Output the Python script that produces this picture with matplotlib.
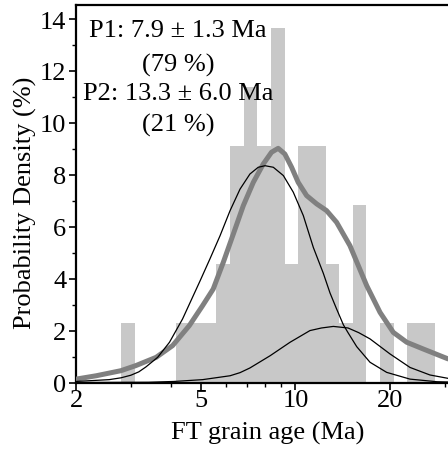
import numpy as np
import matplotlib
matplotlib.use("Agg")
from matplotlib import pyplot as plt
from matplotlib.ticker import FixedLocator, FixedFormatter, NullFormatter

plt.rcParams['font.family'] = ['Liberation Serif', 'DejaVu Serif']

# histogram of grain ages: log bins, 0.1 wide in ln(age)
n_grains = 44
bin_start = 2.782
bin_step_ln = 0.1
bin_counts = [1, 0, 0, 0, 1, 1, 1, 2, 4, 5, 4, 6, 2, 4, 4, 2, 1, 3, 0, 1, 0, 1, 1]

# thick grey density curve (age Ma, %)
kde_age = [2.0, 2.32, 2.78, 3.10, 3.60, 4.06, 4.59, 5.06, 5.47, 5.89, 6.34, 6.82,
           7.34, 7.90, 8.39, 8.81, 9.25, 9.72, 10.20, 10.85, 11.68, 12.56, 13.52,
           14.91, 16.86, 18.59, 20.49, 22.61, 25.53, 30.6]
kde_val = [0.13, 0.26, 0.455, 0.65, 0.97, 1.42, 2.19, 2.96, 3.60, 4.63, 5.72, 6.81,
           7.71, 8.42, 8.87, 9.02, 8.80, 8.29, 7.71, 7.20, 6.88, 6.62, 6.17,
           5.27, 3.73, 2.70, 1.93, 1.55, 1.29, 0.91]

# peak 1 component
p1_age = [2.0, 2.55, 2.78, 2.99, 3.17, 3.34, 3.64, 3.97, 4.37, 4.97, 5.34, 5.75,
          6.19, 6.66, 7.16, 7.61, 8.00, 8.50, 9.15, 9.84, 10.59, 11.40, 12.27,
          12.88, 13.5, 14.21, 14.7, 15.67, 17.27, 19.52, 23.16, 28.2, 30.6]
p1_val = [0.04, 0.11, 0.18, 0.28, 0.41, 0.60, 0.97, 1.55, 2.45, 3.92, 4.76, 5.65,
          6.62, 7.45, 8.03, 8.29, 8.35, 8.29, 7.97, 7.33, 6.43, 5.20, 4.20,
          3.45, 2.85, 2.22, 1.92, 1.38, 0.78, 0.39, 0.13, 0.03, 0.02]

# peak 2 component
p2_age = [2.0, 3.4, 4.1, 5.06, 6.19, 6.66, 7.16, 8.30, 9.61, 11.12, 12.1, 13.20,
          14.7, 15.9, 17.27, 20.0, 23.16, 26.8, 30.6]
p2_val = [0.0, 0.01, 0.04, 0.11, 0.26, 0.38, 0.56, 1.03, 1.55, 2.00, 2.10, 2.16,
          2.10, 1.92, 1.68, 1.10, 0.58, 0.29, 0.16]

peak_text = ["P1: 7.9 ± 1.3 Ma", "(79 %)", "P2: 13.3 ± 6.0 Ma", "(21 %)"]

fig = plt.figure(figsize=(4.48, 4.52), dpi=100)
ax = fig.add_axes([76/448, 68.5/452, 372/448, 377.5/452])

edges = np.exp(np.log(bin_start) + bin_step_ln*np.arange(len(bin_counts)+1))
heights = np.array(bin_counts)/n_grains*100
ax.bar(edges[:-1], heights, width=np.diff(edges), align='edge',
       color='#c8c8c8', linewidth=0, zorder=1)

ax.plot(kde_age, kde_val, color='#808080', lw=3.6, solid_joinstyle='round',
        solid_capstyle='round', zorder=3)
ax.plot(p1_age, p1_val, color='black', lw=0.9, zorder=4)
ax.plot(p2_age, p2_val, color='black', lw=0.9, zorder=4)

ax.set_xscale('log')
ax.set_xlim(2, 30.6)
ax.set_ylim(0, 14.54)

ax.xaxis.set_major_locator(FixedLocator([2, 5, 10, 20]))
ax.xaxis.set_minor_locator(FixedLocator([3, 4, 6, 7, 8, 9, 30]))
ax.xaxis.set_major_formatter(FixedFormatter(['2', '5', '10', '20']))
ax.xaxis.set_minor_formatter(NullFormatter())
ax.set_yticks(range(0, 15, 2))
ax.yaxis.set_minor_locator(FixedLocator(range(1, 15, 2)))

ax.tick_params(which='major', direction='out', length=5, width=1.2,
               labelsize=19, pad=2)
ax.tick_params(which='minor', direction='out', length=3, width=1.0)
ax.tick_params(axis='x', which='major', pad=0)

for s in ['left', 'bottom', 'top']:
    ax.spines[s].set_linewidth(1.6)
ax.spines['right'].set_visible(False)

ax.set_xlabel('FT grain age (Ma)', fontsize=19, labelpad=7, x=0.516)
ax.set_ylabel('Probability Density (%)', fontsize=19, labelpad=2, y=0.478)

ys = [0.9187, 0.826, 0.751, 0.667]
for t, y in zip(peak_text, ys):
    ax.text(0.274, y, t, transform=ax.transAxes, ha='center', va='baseline',
            fontsize=19, zorder=5)

fig.savefig('out.png', dpi=100)
